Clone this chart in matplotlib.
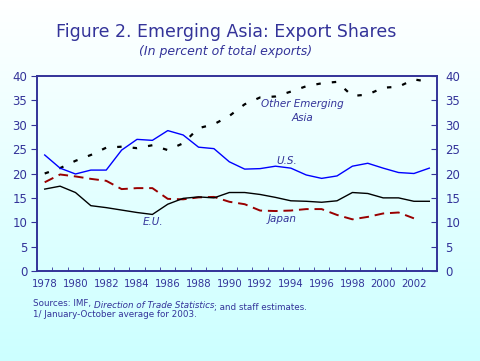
import matplotlib
matplotlib.use("Agg")
import matplotlib.pyplot as plt
import numpy as np

NAVY = "#333399"

years = list(range(1978, 2004))
us = [23.8, 21.1, 19.9, 20.7, 20.7, 24.8, 27.0, 26.8, 28.8, 27.9, 25.4, 25.1, 22.4,
      20.9, 21.0, 21.5, 21.1, 19.7, 19.0, 19.5, 21.5, 22.1, 21.1, 20.2, 20.0, 21.1]
eu = [16.8, 17.4, 16.1, 13.4, 13.0, 12.5, 12.0, 11.6, 13.7, 14.9, 15.2, 15.0, 16.1,
      16.1, 15.7, 15.1, 14.4, 14.3, 14.1, 14.4, 16.1, 15.9, 15.0, 15.0, 14.3, 14.3]
japan = [18.2, 19.8, 19.4, 18.9, 18.5, 16.8, 17.0, 17.0, 14.8, 14.7, 15.1, 15.2, 14.2,
         13.7, 12.4, 12.3, 12.4, 12.7, 12.7, 11.5, 10.6, 11.1, 11.8, 12.0, 10.8, np.nan]
other_asia = [20.0, 21.1, 22.6, 23.8, 25.3, 25.5, 25.2, 25.8, 24.8, 26.2, 29.3, 30.1, 31.8,
              34.2, 35.6, 35.8, 36.8, 37.9, 38.5, 38.8, 35.9, 36.2, 37.6, 37.8, 39.3, 38.8]
yticks = [0, 5, 10, 15, 20, 25, 30, 35, 40]

fig = plt.figure(figsize=(4.8, 3.61), dpi=100)

# background gradient, white at top to light cyan at bottom
bg = fig.add_axes([0, 0, 1, 1], zorder=-10)
grad = np.linspace(0, 1, 256)[:, None]
top = np.array([1.0, 1.0, 1.0]); bot = np.array([0.8, 1.0, 1.0])
img = top + (bot - top) * grad[..., None]
bg.imshow(img, aspect="auto", extent=[0, 1, 0, 1], origin="upper")
bg.axis("off")

ax = fig.add_axes([37 / 480, 1 - 271 / 361, 400 / 480, 195 / 361])
ax.patch.set_alpha(0)
x = np.arange(len(years))
ax.plot(x, other_asia, color="black", lw=1.6, ls=(0, (2, 5)))
ax.plot(x, japan, color="#990000", lw=1.4, ls=(0, (5, 3)))
ax.plot(x, eu, color="black", lw=1.0)
ax.plot(x, us, color="#0000ff", lw=1.0)

ax.set_xlim(-0.5, len(years) - 0.5)
ax.set_ylim(0, 40)
ax.set_yticks(yticks)
ax.set_yticklabels([str(v) for v in yticks])
ax.set_xticks(x[::2])
ax.set_xticklabels([str(y) for y in years[::2]])
ax.set_xticks(np.arange(-0.5, len(years), 1), minor=True)
ax.tick_params(axis="x", which="major", length=0, pad=6, labelsize=7.3, colors=NAVY)
ax.tick_params(axis="x", which="minor", direction="in", length=3, color=NAVY)
ax.tick_params(axis="y", direction="out", length=4, labelsize=8.5, colors=NAVY, pad=3)
for s in ax.spines.values():
    s.set_color(NAVY); s.set_linewidth(1.2)

ax2 = ax.twinx()
ax2.set_ylim(0, 40)
ax2.set_yticks(yticks)
ax2.set_yticklabels([str(v) for v in yticks])
ax2.tick_params(axis="y", direction="in", length=4, labelsize=8.5, colors=NAVY, pad=6)
for s in ax2.spines.values():
    s.set_color(NAVY); s.set_linewidth(1.2)

# series labels
lab = dict(color=NAVY, fontsize=7.5, style="italic", ha="center", va="center")
ax.text(302 / 480, 1 - 111 / 361, "Other Emerging\nAsia", transform=fig.transFigure,
        linespacing=1.4, **lab)
ax.text(287 / 480, 1 - 161 / 361, "U.S.", transform=fig.transFigure, **lab)
ax.text(282 / 480, 1 - 219 / 361, "Japan", transform=fig.transFigure, **lab)
ax.text(153 / 480, 1 - 222 / 361, "E.U.", transform=fig.transFigure, **lab)

# titles
fig.text(226 / 480, 1 - 32 / 361, "Figure 2. Emerging Asia: Export Shares",
         ha="center", va="center", color=NAVY, fontsize=12.5)
fig.text(226 / 480, 1 - 52 / 361, "(In percent of total exports)",
         ha="center", va="center", color=NAVY, fontsize=9, style="italic")

# footnotes (italic title chained after the plain text)
fn = dict(color=NAVY, fontsize=6.3, va="baseline")
t1 = fig.text(33 / 480, 1 - 306 / 361, "Sources: IMF, ", **fn)
t2 = ax.annotate("Direction of Trade Statistics", xy=(1, 0), xycoords=t1,
                 style="italic", **fn)
ax.annotate("; and staff estimates.", xy=(1, 0), xycoords=t2, **fn)
fig.text(33 / 480, 1 - 317 / 361, "1/ January-October average for 2003.", **fn)

fig.savefig("out.png", dpi=100)
